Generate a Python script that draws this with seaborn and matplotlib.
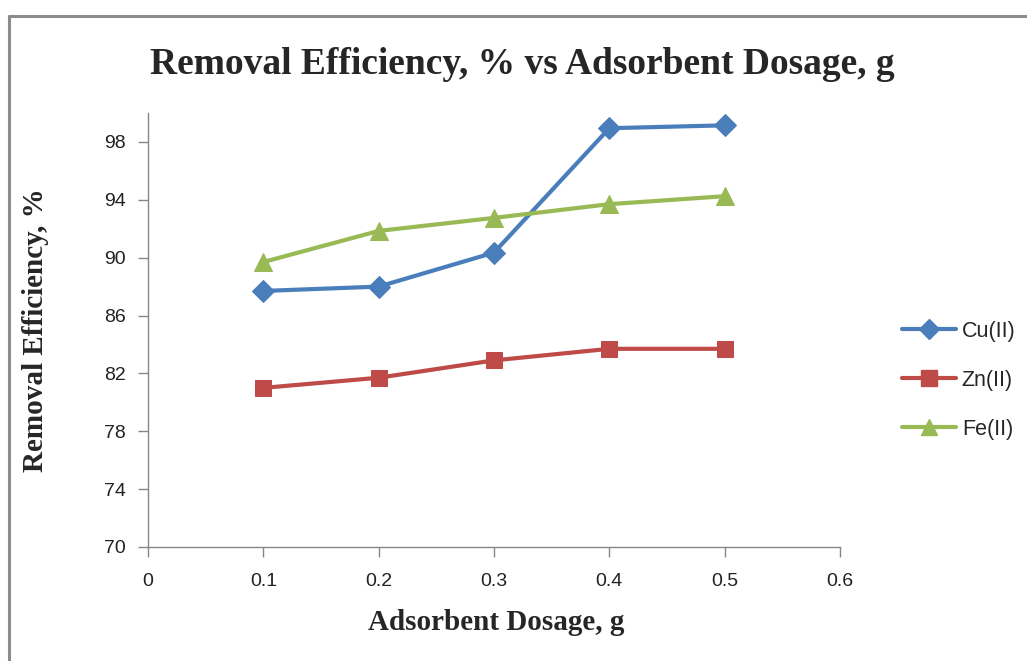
import matplotlib
matplotlib.use("Agg")
import matplotlib.pyplot as plt
from matplotlib.lines import Line2D
import seaborn as sns
import pandas as pd

dosage = [0.1, 0.2, 0.3, 0.4, 0.5]
cu = [87.7, 88.0, 90.35, 98.95, 99.15]
zn = [81.0, 81.7, 82.9, 83.7, 83.7]
fe = [89.7, 91.85, 92.75, 93.7, 94.25]
series_names = ["Cu(II)", "Zn(II)", "Fe(II)"]
colors = ["#4A7EBB", "#BE4B48", "#98B954"]
markers = ["D", "s", "^"]
xticks = [0, 0.1, 0.2, 0.3, 0.4, 0.5, 0.6]
yticks = [70, 74, 78, 82, 86, 90, 94, 98]

sns.set_style("white")
plt.rcParams['font.family'] = ['Liberation Sans', 'DejaVu Sans']

df = pd.DataFrame({
    "dosage": dosage * 3,
    "value": cu + zn + fe,
    "series": sum([[n] * len(dosage) for n in series_names], []),
})

fig = plt.figure(figsize=(10.27, 6.61), dpi=100)
ax = fig.add_axes([0.1441, 0.1725, 0.8179 - 0.1441, 0.829 - 0.1725])

msizes = {"Cu(II)": 11, "Zn(II)": 12, "Fe(II)": 13}
for name, col, mk in zip(series_names, colors, markers):
    sub = df[df["series"] == name]
    sns.lineplot(data=sub, x="dosage", y="value", ax=ax, color=col,
                 marker=mk, markersize=msizes[name], markeredgecolor=col,
                 linewidth=3, legend=False)

ax.set_xlim(0, 0.6)
ax.set_ylim(70, 100)
ax.set_xticks(xticks)
ax.set_xticklabels([f"{t:g}" for t in xticks])
ax.set_yticks(yticks)
ax.set_yticklabels([str(t) for t in yticks])
for s in ["top", "right"]:
    ax.spines[s].set_visible(False)
for s in ["left", "bottom"]:
    ax.spines[s].set_color("#868686")
    ax.spines[s].set_linewidth(1)
ax.tick_params(axis="both", direction="out", length=7, width=1, color="#868686",
               labelsize=14, labelcolor="#222222", bottom=True, left=True)
ax.tick_params(axis="x", pad=12)
ax.tick_params(axis="y", pad=9)

ax.set_xlabel("Adsorbent Dosage, g", fontsize=21, fontweight="bold",
              family="Liberation Serif")
ax.set_ylabel("Removal Efficiency, %", fontsize=21, fontweight="bold",
              family="Liberation Serif")
ax.xaxis.set_label_coords(0.503, -0.142)
ax.yaxis.set_label_coords(-0.143, 0.5)
fig.text(0.509, 0.902, "Removal Efficiency, % vs Adsorbent Dosage, g",
         ha="center", va="center", fontsize=27, fontweight="bold",
         family="Liberation Serif")

handles = [Line2D([0], [0], color=c, marker=m, markersize=msizes[n] - 1, linewidth=3,
                  markeredgecolor=c) for c, m, n in zip(colors, markers, series_names)]
leg = fig.legend(handles, series_names, loc="center left",
                 bbox_to_anchor=(0.859, 0.425), frameon=False, fontsize=15.5,
                 handlelength=2.55, labelspacing=1.3, handletextpad=0.25)

# outer border (partly cropped)
fig.add_artist(Line2D([8.5 / 1027, 8.5 / 1027], [0, 1 - 15.5 / 661],
                      transform=fig.transFigure, color="#8c8c8c", linewidth=2.2))
fig.add_artist(Line2D([8.5 / 1027, 1], [1 - 15.5 / 661, 1 - 15.5 / 661],
                      transform=fig.transFigure, color="#8c8c8c", linewidth=2.2))

fig.savefig("out.png", dpi=100, facecolor="white")
